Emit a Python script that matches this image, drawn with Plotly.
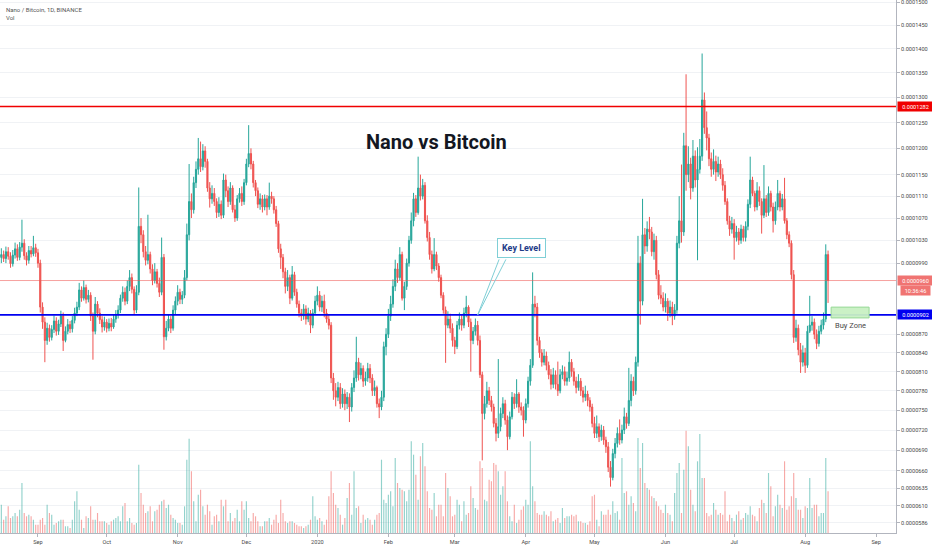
import numpy as np
import pandas as pd
import plotly.graph_objects as go

# NANO/BTC daily candles, 2019-08-16 .. 2020-08-11, prices in millionths of BTC
# (0.0000902 BTC -> 90.2). Each day opens at the previous close.
first_open = 100.0
close_e6 = [
    100.5, 99.8, 101.0, 100.2, 98.9, 100.4, 101.5, 100.0, 101.8, 102.5, 100.3, 99.5, 101.2, 100.6, 101.7, 100.8, 99.0,
    91.5, 89.0, 86.0, 88.0, 86.5, 87.8, 89.2, 87.5, 88.7, 90.0, 86.0, 87.5, 88.6, 87.9, 89.3, 90.5, 91.5,
    94.4, 93.0, 94.8, 92.8, 93.5, 90.0, 87.5, 92.0, 90.5, 89.4, 88.2, 89.0, 88.0, 88.8, 88.2, 89.5, 90.3,
    91.0, 93.0, 94.0, 92.5, 95.0, 96.5, 94.5, 91.0, 94.0, 105.5, 104.0, 101.0, 99.5, 100.5, 98.0, 96.0, 97.5, 95.5,
    94.0, 100.0, 86.6, 88.0, 89.5, 88.0, 91.0, 92.5, 94.0, 92.8, 93.5, 96.5, 104.0, 110.0, 108.5, 113.5, 116.0, 118.0,
    116.5, 119.5, 117.5, 112.5, 110.5, 111.5, 110.0, 108.0, 109.5, 107.5, 114.0, 112.0, 110.0, 112.5,
    108.5, 107.0, 110.5, 111.5, 110.0, 113.5, 117.0, 119.0, 117.0, 113.5, 112.0, 109.5, 110.5, 109.0, 110.5, 109.0, 111.0, 110.5,
    108.5, 106.0, 101.5, 100.0, 97.5, 95.0, 96.5, 93.0, 97.0, 94.0, 92.0, 90.5, 90.0, 91.2, 89.5, 90.5, 88.5, 90.5, 92.5, 93.5, 91.5, 92.5, 90.5, 89.5, 88.5,
    80.0, 78.0, 77.0, 78.5, 76.0, 77.5, 76.0, 77.0, 75.5, 78.5, 80.0, 82.5, 80.5, 81.5, 79.5, 80.0, 81.5, 80.0, 78.0, 78.5, 76.0, 75.5, 77.0,
    85.0, 87.0, 90.0, 92.0, 95.0, 98.0, 96.5, 100.5, 93.0, 95.0, 99.0, 103.0, 106.5, 110.5, 108.0, 112.5, 111.0, 113.0, 106.5, 103.5, 100.5, 98.0, 100.5, 98.5, 96.5, 93.5, 91.0, 88.5, 89.5,
    88.0, 86.0, 85.0, 88.5, 89.5, 88.5, 90.5, 91.5, 89.0, 86.0, 87.5, 88.5, 86.0, 80.5, 74.5,
    76.0, 78.0, 76.5, 75.5, 73.0, 71.5, 72.5, 74.5, 76.0, 73.5, 71.0, 74.0, 77.0, 76.0, 77.5, 75.5, 75.0, 73.5, 76.0, 79.5, 82.0,
    92.0, 91.5, 86.0, 84.0, 82.5, 83.5, 82.0, 80.5, 79.0, 80.5, 79.0, 78.0, 80.5, 81.0, 79.5, 80.0, 82.5, 81.0, 79.5, 78.5, 79.5, 78.0, 77.0, 77.5, 76.5, 75.5,
    73.0, 71.5, 72.5, 71.0, 72.0, 70.5, 69.5, 66.5, 65.0, 68.5, 70.0, 71.5, 70.5, 72.0, 74.0, 73.0, 76.5, 79.5, 78.0, 82.5,
    99.0, 92.5, 104.0, 102.0, 105.0, 104.5, 101.0, 103.0, 97.0, 93.5, 93.0, 91.5, 92.5, 90.5, 91.5, 90.0, 91.0,
    102.5, 106.5, 104.5, 120.5, 115.0, 117.0, 112.5, 118.5, 114.0, 116.0, 118.5, 129.5, 124.0, 122.0, 118.0, 116.0, 117.5, 115.5, 117.0,
    115.0, 113.0, 110.0, 106.5, 105.0, 106.0, 103.5, 104.5, 103.0, 105.0, 103.5, 105.5, 109.5, 114.0, 111.5, 109.0, 112.0, 110.0, 107.5, 110.5, 108.0, 111.5, 109.0, 106.5, 109.0, 111.5, 109.0, 110.5, 106.5, 104.0, 102.5,
    97.0, 86.5, 88.0, 84.5, 82.5, 84.0, 82.0, 87.5, 88.5, 89.0, 87.0, 85.5, 87.5, 88.5, 89.5, 100.5, 96.0,
]
high_e6 = [
    101.6, 101.2, 101.9, 101.8, 100.9, 101.3, 102.6, 102.3, 102.7, 106.7, 103.2, 100.9, 102.0, 102.0, 103.8, 102.4, 101.5,
    99.6, 92.3, 89.8, 88.9, 88.6, 88.5, 90.1, 89.8, 89.4, 90.9, 90.6, 88.3, 89.5, 89.2, 90.0, 91.4, 92.4,
    95.6, 95.0, 96.0, 95.3, 94.4, 94.0, 90.6, 93.2, 92.5, 91.3, 90.0, 89.9, 89.5, 89.6, 89.7, 90.3, 91.0,
    91.8, 93.6, 95.0, 94.8, 96.0, 97.8, 97.2, 95.0, 95.2, 112.6, 107.0, 104.8, 102.0, 107.6, 101.0, 98.8, 99.0, 98.0,
    96.5, 103.5, 100.6, 89.2, 90.3, 90.0, 91.8, 93.3, 95.2, 94.6, 94.2, 97.8, 106.0, 117.0, 111.5, 114.6, 117.5, 122.0,
    121.3, 120.8, 120.4, 118.0, 113.6, 113.0, 112.5, 110.6, 110.8, 110.2, 115.2, 115.0, 112.8, 113.6,
    113.0, 109.4, 111.2, 112.5, 112.8, 114.2, 118.0, 124.5, 120.0, 117.6, 114.0, 112.6, 111.5, 111.2, 111.3, 111.2, 113.5, 111.8,
    111.0, 109.2, 106.5, 102.4, 100.6, 98.2, 97.8, 97.0, 98.5, 97.5, 94.6, 92.6, 91.2, 92.0, 91.8, 91.4, 91.0, 91.2, 93.4, 95.0, 94.2, 93.4, 93.6, 91.2, 90.2,
    89.0, 80.8, 79.2, 79.4, 79.2, 78.4, 78.2, 77.8, 77.6, 79.2, 81.2, 86.6, 83.2, 82.4, 82.0, 81.0, 82.4, 82.2, 80.6, 79.6, 78.8, 76.8, 78.0,
    85.8, 88.0, 91.2, 93.4, 96.2, 99.6, 99.0, 101.8, 101.0, 95.8, 99.8, 103.8, 108.0, 111.6, 111.2, 118.4, 115.0, 114.2, 113.6, 107.5, 104.5, 101.2, 103.4, 101.0, 99.0, 97.0, 94.0, 91.6, 90.8,
    90.4, 88.8, 86.6, 89.2, 90.6, 90.2, 91.4, 93.4, 91.8, 89.6, 88.2, 89.6, 89.2, 86.8, 81.0,
    77.2, 79.4, 78.6, 77.2, 76.0, 73.8, 83.0, 75.4, 77.0, 76.6, 74.2, 74.8, 77.8, 77.6, 79.8, 77.8, 76.2, 75.6, 76.8, 80.2, 83.0,
    97.4, 93.4, 92.2, 86.6, 84.6, 84.6, 84.2, 82.6, 81.4, 81.6, 81.2, 82.6, 81.4, 82.0, 81.8, 81.0, 84.2, 83.0, 81.6, 80.2, 80.6, 80.0, 78.6, 78.8, 78.0, 77.0,
    76.0, 74.0, 74.2, 73.0, 72.8, 72.6, 71.0, 70.2, 67.4, 69.2, 70.8, 72.4, 73.6, 72.8, 75.4, 74.6, 81.6, 80.6, 80.2, 83.4,
    103.8, 100.2, 110.5, 105.2, 106.4, 107.2, 105.4, 104.2, 103.8, 97.8, 95.2, 94.0, 93.8, 93.0, 92.6, 92.4, 92.0,
    103.8, 111.0, 116.9, 123.0, 134.7, 120.4, 118.2, 121.6, 119.6, 120.2, 121.8, 139.0, 131.0, 127.2, 122.8, 119.2, 119.8, 118.6, 118.4,
    117.8, 116.2, 113.8, 110.6, 107.4, 107.2, 106.8, 105.6, 105.2, 105.8, 105.6, 106.4, 110.4, 118.4, 114.6, 112.0, 113.6, 112.8, 110.6, 116.8, 111.2, 112.8, 112.0, 109.8, 110.0, 114.0, 112.0, 111.4, 114.4, 107.0, 104.6,
    103.0, 97.8, 89.4, 88.6, 85.6, 85.2, 84.8, 88.4, 93.4, 90.0, 89.6, 87.8, 88.4, 89.4, 90.6, 102.3, 101.2,
]
low_e6 = [
    99.0, 99.2, 99.0, 99.6, 98.2, 98.4, 99.8, 99.4, 99.5, 101.0, 99.6, 98.6, 98.9, 100.0, 100.2, 100.1, 98.2,
    90.6, 87.9, 82.5, 85.3, 85.8, 86.0, 87.2, 86.8, 86.9, 88.2, 84.3, 85.7, 87.0, 87.2, 87.3, 88.8, 90.0,
    91.0, 92.4, 92.6, 92.1, 92.3, 89.2, 82.9, 87.0, 89.8, 88.7, 87.3, 87.6, 87.3, 87.5, 87.5, 87.9, 88.9,
    89.6, 90.5, 92.4, 91.8, 92.0, 94.2, 93.8, 90.2, 90.5, 93.5, 102.5, 100.0, 98.6, 98.8, 97.2, 95.2, 95.5, 94.8,
    93.2, 93.5, 84.5, 86.0, 87.5, 87.2, 87.6, 90.2, 91.8, 92.0, 92.0, 93.0, 96.0, 103.0, 107.0, 107.8, 112.5, 115.0,
    115.5, 115.8, 116.3, 111.8, 108.9, 109.6, 109.2, 107.0, 107.2, 106.8, 107.0, 110.8, 109.0, 109.4,
    108.0, 106.3, 106.5, 109.8, 109.2, 109.4, 113.0, 116.4, 116.0, 112.6, 111.0, 108.8, 108.5, 108.0, 108.4, 107.5, 108.5, 109.6,
    107.8, 105.4, 100.8, 98.0, 96.4, 93.8, 94.2, 92.0, 92.6, 93.4, 91.4, 89.8, 89.2, 89.4, 88.6, 89.0, 87.2, 88.0, 90.2, 91.8, 90.8, 90.7, 89.8, 88.9, 87.8,
    79.2, 76.6, 75.6, 76.4, 75.2, 75.4, 75.0, 75.2, 73.2, 74.8, 77.8, 79.4, 79.6, 79.8, 78.6, 78.8, 79.4, 79.2, 77.2, 77.2, 75.4, 73.8, 75.0,
    76.4, 83.6, 86.4, 89.2, 91.4, 94.2, 95.6, 96.0, 92.6, 91.0, 94.4, 98.4, 102.4, 105.5, 107.2, 107.6, 110.2, 110.4, 106.0, 102.8, 99.6, 97.2, 97.6, 97.8, 95.8, 93.0, 90.4, 82.4, 88.0,
    87.2, 85.0, 83.8, 84.6, 87.8, 87.6, 88.0, 89.8, 88.2, 81.0, 85.4, 86.8, 85.2, 80.0, 67.5,
    73.6, 75.4, 75.8, 74.8, 72.4, 70.3, 70.8, 71.8, 73.8, 72.8, 69.0, 70.6, 73.6, 75.2, 75.4, 74.6, 74.2, 71.0, 73.0, 75.4, 78.8,
    81.6, 89.8, 85.2, 83.2, 81.8, 82.0, 81.2, 79.8, 78.2, 78.4, 78.2, 77.2, 77.6, 79.8, 78.8, 78.8, 79.4, 80.2, 78.8, 77.6, 78.0, 77.2, 76.2, 76.4, 75.6, 74.8,
    72.4, 70.8, 70.8, 70.2, 70.4, 69.8, 68.6, 65.8, 63.7, 64.6, 67.8, 69.4, 69.8, 70.0, 71.4, 72.2, 72.6, 75.6, 77.2, 77.4,
    81.8, 88.6, 91.8, 100.6, 101.0, 103.2, 100.2, 99.6, 96.2, 92.8, 92.0, 90.8, 90.6, 89.2, 89.8, 88.5, 89.4,
    90.4, 101.6, 102.6, 103.8, 112.0, 113.6, 110.4, 111.8, 112.6, 99.5, 115.2, 117.6, 122.8, 119.6, 116.6, 114.6, 115.0, 113.8, 114.6,
    114.2, 112.0, 109.4, 105.8, 103.8, 104.2, 99.6, 102.8, 102.2, 102.4, 102.8, 102.8, 104.8, 108.8, 111.0, 108.2, 108.4, 109.2, 104.2, 107.0, 107.2, 107.4, 108.2, 104.4, 105.8, 108.4, 108.2, 108.4, 106.0, 103.2, 101.8,
    96.2, 85.6, 85.8, 83.6, 80.8, 81.8, 80.8, 81.6, 87.2, 87.6, 86.2, 84.6, 85.0, 87.0, 87.8, 89.0, 92.2,
]
# daily volume, thousands of NANO
volume_k = [
    283, 133, 167, 267, 150, 167, 200, 167, 233, 500, 200, 167, 183, 167, 133, 83, 83, 133, 150, 83,
    283, 200, 183, 83, 100, 117, 133, 133, 67, 67, 50, 133, 317, 417, 233, 133, 50, 167, 150, 267,
    133, 133, 200, 117, 117, 117, 100, 83, 117, 133, 150, 167, 117, 267, 300, 117, 150, 100, 83, 100,
    683, 400, 283, 200, 217, 267, 117, 217, 233, 283, 317, 333, 250, 283, 183, 150, 133, 100, 100, 83,
    267, 733, 943, 617, 317, 117, 383, 433, 267, 183, 283, 217, 83, 167, 183, 117, 333, 267, 333, 117,
    200, 117, 150, 233, 117, 317, 233, 317, 150, 117, 200, 167, 117, 67, 67, 117, 117, 150, 83, 133,
    183, 100, 333, 200, 117, 100, 117, 117, 100, 83, 67, 67, 50, 67, 83, 133, 367, 167, 133, 150,
    117, 83, 133, 367, 617, 400, 283, 250, 183, 83, 150, 350, 500, 183, 617, 250, 267, 100, 183, 133,
    150, 133, 83, 133, 183, 200, 733, 333, 300, 383, 417, 267, 750, 500, 450, 433, 417, 317, 433, 917,
    783, 583, 333, 767, 900, 667, 417, 250, 233, 400, 167, 283, 283, 167, 600, 450,
    367, 167, 183, 333, 283, 117, 317, 183, 200, 467, 350, 250, 233, 717, 650, 333, 317, 533, 517, 700,
    683, 617, 383, 467, 617, 317, 167, 117, 283, 100, 133, 233, 267, 333, 283, 917, 467, 317, 200, 183,
    183, 217, 183, 167, 217, 117, 133, 150, 100, 250, 150, 167,
    167, 183, 167, 183, 117, 117, 100, 100, 83, 117, 367, 383, 133, 67, 217, 183, 183, 233, 183, 317,
    200, 217, 133, 750, 400, 417, 283, 367, 300, 217, 950, 650, 900, 500, 450, 433, 367, 350, 317, 267,
    233, 200, 283, 200, 183, 117, 400, 600, 700, 200, 633, 1023, 867, 433, 283, 217, 717, 990, 550, 550,
    200, 167, 183, 300, 233, 183, 200, 183, 417, 117, 183, 150, 117, 183, 217, 133, 150, 200, 183, 267, 183,
    167, 117, 250, 333, 300, 200, 600, 467, 167, 267, 383, 283, 250, 717, 233, 267, 367, 600, 350, 233,
    233, 150, 267, 250, 550, 250, 283, 283, 167, 200, 200, 750, 417,
]

START_DATE = "2019-08-16"
RESISTANCE = 128.2
KEY_LEVEL = 90.2
BUY_ZONE_LOW, BUY_ZONE_HIGH = 89.7, 91.5
BUY_ZONE_START, BUY_ZONE_END = "2020-08-12 08:00", "2020-08-28 22:00"
KEY_LEVEL_DATE = "2020-03-11"
COUNTDOWN = "10:36:46"

price_labels = ["0.0001500", "0.0001450", "0.0001400", "0.0001350", "0.0001300", "0.0001250",
                "0.0001200", "0.0001150", "0.0001110", "0.0001070", "0.0001030", "0.0000990",
                "0.0000870", "0.0000840", "0.0000810", "0.0000780", "0.0000750", "0.0000720",
                "0.0000690", "0.0000660", "0.0000635", "0.0000610", "0.0000586"]
month_ticks = ["2019-09-01", "2019-10-01", "2019-11-01", "2019-12-01", "2020-01-01", "2020-02-01",
               "2020-03-01", "2020-04-01", "2020-05-01", "2020-06-01", "2020-07-01", "2020-08-01",
               "2020-09-01"]
month_labels = ["Sep", "Oct", "Nov", "Dec", "2020", "Feb", "Mar", "Apr", "May", "Jun", "Jul", "Aug", "Sep"]

UP = "#26a69a"
DOWN = "#ef5350"
AXIS_FONT = dict(family="Roboto, Liberation Sans, sans-serif", size=5.6, color="#4a4a4a")

# the price scale of the screenshot is logarithmic in (price + 0.0001)
SHIFT = 100.0

def ys(v):
    return np.asarray(v, dtype=float) + SHIFT

def ylog(v):
    return float(np.log10(v + SHIFT))

dates = pd.date_range(START_DATE, periods=len(close_e6), freq="D")
open_e6 = [first_open] + close_e6[:-1]
vol_colors = ["rgba(38,166,154,0.5)" if c >= o else "rgba(239,83,80,0.5)"
              for o, c in zip(open_e6, close_e6)]

fig = go.Figure()

# volume first so it sits under the candles
fig.add_trace(go.Bar(x=dates, y=volume_k, marker=dict(color=vol_colors, line_width=0),
                     yaxis="y", hoverinfo="skip"))

fig.add_trace(go.Candlestick(
    x=dates, open=ys(open_e6), high=ys(high_e6), low=ys(low_e6), close=ys(close_e6),
    yaxis="y2", whiskerwidth=0,
    increasing=dict(line=dict(color=UP, width=1), fillcolor=UP),
    decreasing=dict(line=dict(color=DOWN, width=1), fillcolor=DOWN),
))

# horizontal levels
last_close = close_e6[-1]
fig.add_shape(type="line", xref="paper", x0=0, x1=1, yref="y2", y0=SHIFT + last_close,
              y1=SHIFT + last_close, line=dict(color="rgba(239,83,80,0.55)", width=1))
fig.add_shape(type="line", xref="paper", x0=0, x1=1, yref="y2", y0=SHIFT + RESISTANCE,
              y1=SHIFT + RESISTANCE, line=dict(color="#f00000", width=1.6))
fig.add_shape(type="line", xref="paper", x0=0, x1=1, yref="y2", y0=SHIFT + KEY_LEVEL,
              y1=SHIFT + KEY_LEVEL, line=dict(color="#0000f0", width=1.6))

# buy zone box
fig.add_shape(type="rect", xref="x", yref="y2", x0=BUY_ZONE_START, x1=BUY_ZONE_END,
              y0=SHIFT + BUY_ZONE_LOW, y1=SHIFT + BUY_ZONE_HIGH,
              fillcolor="rgba(200,240,195,0.95)", line=dict(color="#97d897", width=1))
fig.add_annotation(x="2020-08-21", y=ylog(88.4), xref="x", yref="y2", text="Buy Zone",
                   showarrow=False, font=dict(family="Roboto, sans-serif", size=7.5, color="#4a4a4a"))

# key level callout
fig.add_annotation(x=KEY_LEVEL_DATE, y=ylog(KEY_LEVEL), xref="x", yref="y2",
                   text="<b>Key Level</b>", showarrow=False, xshift=44, yshift=67,
                   font=dict(family="Roboto, sans-serif", size=9, color="#1f3c88"),
                   bgcolor="white", bordercolor="#7fcfd6", borderwidth=1, borderpad=4)
for ax in (22, 29):
    fig.add_annotation(x=KEY_LEVEL_DATE, y=ylog(KEY_LEVEL), xref="x", yref="y2", text="",
                       showarrow=True, arrowhead=0, arrowwidth=1, arrowcolor="#7fcfd6",
                       ax=ax, ay=-57, standoff=0)

# chart title
fig.add_annotation(xref="paper", yref="paper", x=436 / 896, y=1 - 142 / 533, yanchor="middle",
                   text="<b>Nano vs Bitcoin</b>", showarrow=False,
                   font=dict(family="Roboto, sans-serif", size=20, color="#131722"))

# top-left legend text
fig.add_annotation(xref="paper", yref="paper", x=0.004, y=1 - 9 / 533, xanchor="left",
                   yanchor="middle", text="Nano / Bitcoin, 1D, BINANCE", showarrow=False,
                   font=dict(family="Roboto, sans-serif", size=6, color="#555555"))
fig.add_annotation(xref="paper", yref="paper", x=0.004, y=1 - 18 / 533, xanchor="left",
                   yanchor="middle", text="Vol", showarrow=False,
                   font=dict(family="Roboto, sans-serif", size=6, color="#555555"))

# price labels on the right scale
for val, txt, bg in [(RESISTANCE, "0.0001282", "#f00000"),
                     (last_close, "0.0000960", "#f07472"),
                     (KEY_LEVEL, "0.0000902", "#0000f0")]:
    fig.add_annotation(xref="paper", x=1, xanchor="left", xshift=1, yref="y2", y=ylog(val),
                       text=txt, showarrow=False, bgcolor=bg, width=32, borderpad=1.5,
                       font=dict(family="Roboto, sans-serif", size=5.6, color="white"))
fig.add_annotation(xref="paper", x=1, xanchor="left", xshift=4, yref="y2", y=ylog(last_close),
                   yshift=-10, text=COUNTDOWN, showarrow=False, bgcolor="#f07472", width=26,
                   borderpad=1.5, font=dict(family="Roboto, sans-serif", size=5.6, color="white"))

price_vals = [float(t) * 1e6 + SHIFT for t in price_labels]

fig.update_layout(
    width=932, height=550,
    margin=dict(l=0, r=36, t=0, b=17),
    paper_bgcolor="white", plot_bgcolor="white",
    showlegend=False, bargap=0.5,
    xaxis=dict(type="date", range=["2019-08-15 10:00", "2020-09-09 16:00"],
               tickvals=month_ticks, ticktext=month_labels, showgrid=False, zeroline=False,
               showline=True, linecolor="#b2b5be", linewidth=1, ticks="outside", ticklen=3,
               tickcolor="#b2b5be", tickfont=AXIS_FONT, rangeslider=dict(visible=False)),
    yaxis=dict(range=[0, 5330], visible=False, fixedrange=True),
    yaxis2=dict(overlaying="y", side="right", type="log",
                range=[np.log10(57.2 + SHIFT), np.log10(150.44 + SHIFT)],
                tickvals=price_vals, ticktext=price_labels, showgrid=True, gridcolor="#f0f2f5",
                zeroline=False, showline=True, linecolor="#b2b5be", linewidth=1,
                ticks="outside", ticklen=3, tickcolor="#b2b5be", tickfont=AXIS_FONT,
                ticklabeloverflow="allow"),
)

# the page body has a default 8px margin; drop it so the figure fills the window
fig.write_html("out.html", config={"displayModeBar": False},
               post_script="document.body.style.margin='0';")
